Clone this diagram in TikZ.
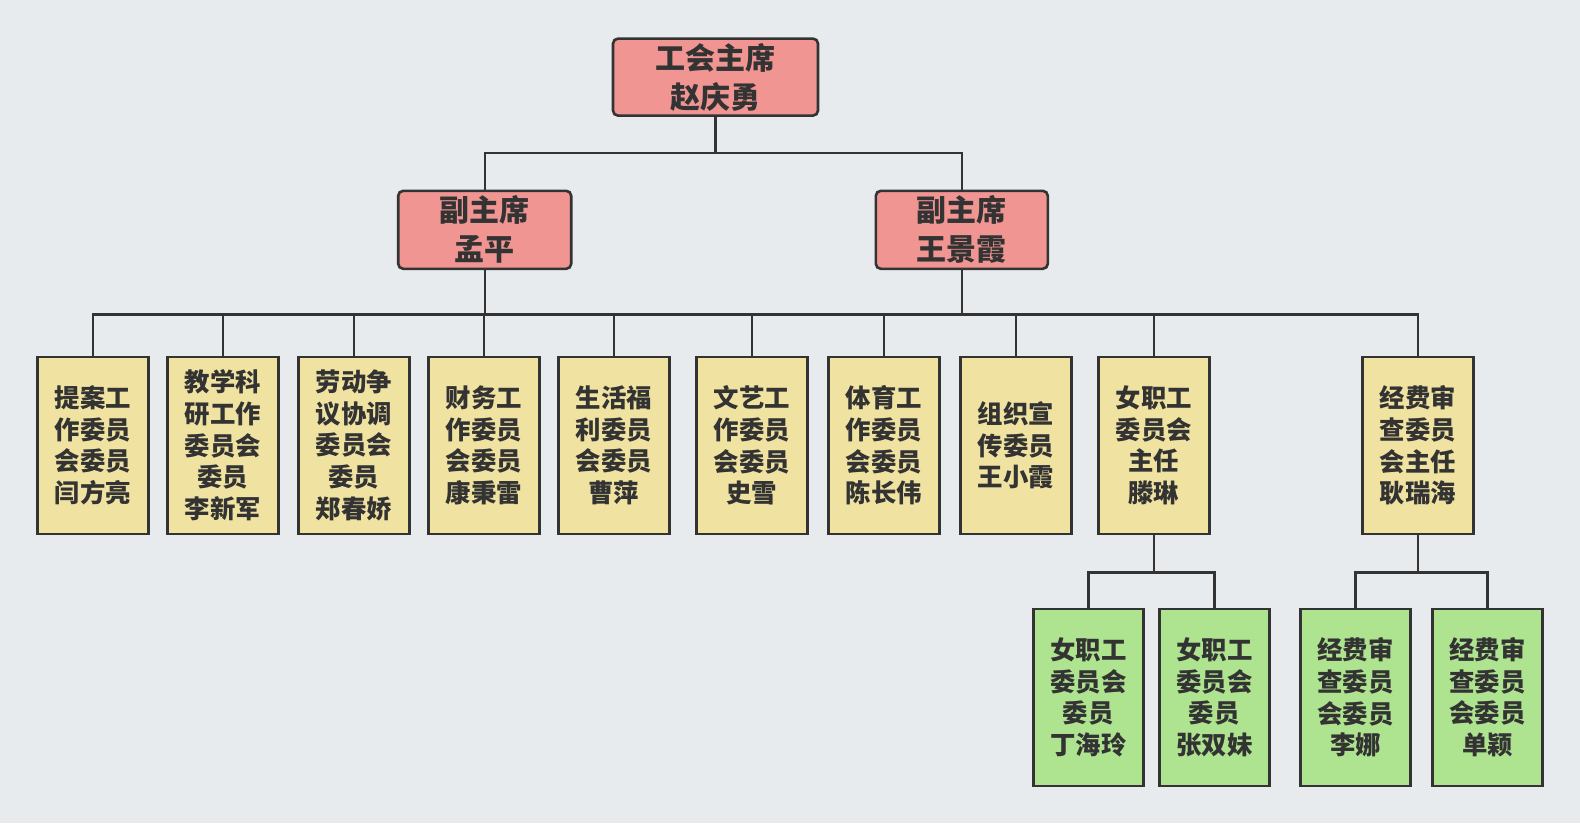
\documentclass[tikz,border=0pt]{standalone}
\usepackage{fontspec}
\setmainfont{Noto Sans CJK SC}
\definecolor{bg}{HTML}{E7EBEE}
\definecolor{ink}{HTML}{333333}
\definecolor{redfill}{HTML}{F19592}
\definecolor{yelfill}{HTML}{F0E3A1}
\definecolor{grnfill}{HTML}{AEE38F}
\tikzset{
  base/.style={draw=ink, line width=2.6pt, text=ink, align=center, inner sep=0pt, font=\bfseries},
  chief/.style={base, fill=redfill, rounded corners=5pt, font=\fontsize{30}{39}\selectfont\bfseries},
  leaf/.style={base, fill=yelfill, minimum width=111pt, minimum height=177pt, font=\fontsize{25.4}{31.7}\selectfont\bfseries},
  sub/.style={base, fill=grnfill, minimum width=110pt, minimum height=177pt, font=\fontsize{25.4}{31.7}\selectfont\bfseries},
  link/.style={draw=ink, line width=2.4pt}
}
\begin{document}
\begin{tikzpicture}[x=1pt,y=-1pt]
\useasboundingbox[fill=bg] (0,0) rectangle (1580,823);
\node[chief, minimum width=205pt, minimum height=77pt] (root) at (715.5,77.1) {工会主席\\赵庆勇};
\node[chief, minimum width=173pt, minimum height=78pt] (vl) at (484.7,229.8) {副主席\\孟平};
\node[chief, minimum width=172pt, minimum height=78pt] (vr) at (961.8,229.8) {副主席\\王景霞};
\node[leaf] (c1) at (92.7,445.4) {提案工\\作委员\\会委员\\闫方亮};
\node[leaf] (c2) at (222.7,445.4) {教学科\\研工作\\委员会\\委员\\李新军};
\node[leaf] (c3) at (353.7,445.4) {劳动争\\议协调\\委员会\\委员\\郑春娇};
\node[leaf] (c4) at (483.7,445.4) {财务工\\作委员\\会委员\\康秉雷};
\node[leaf] (c5) at (613.7,445.4) {生活福\\利委员\\会委员\\曹萍};
\node[leaf] (c6) at (751.7,445.4) {文艺工\\作委员\\会委员\\史雪};
\node[leaf] (c7) at (883.7,445.4) {体育工\\作委员\\会委员\\陈长伟};
\node[leaf] (c8) at (1015.8,445.4) {组织宣\\传委员\\王小霞};
\node[leaf] (c9) at (1153.8,445.4) {女职工\\委员会\\主任\\滕琳};
\node[leaf] (c10) at (1417.8,445.4) {经费审\\查委员\\会主任\\耿瑞海};
\node[sub] (g1) at (1088.3,697.3) {女职工\\委员会\\委员\\丁海玲};
\node[sub] (g2) at (1214.3,697.3) {女职工\\委员会\\委员\\张双妹};
\node[sub] (g3) at (1355.4,697.3) {经费审\\查委员\\会委员\\李娜};
\node[sub] (g4) at (1487.4,697.3) {经费审\\查委员\\会委员\\单颖};
\coordinate (busA) at (0,153.2);
\coordinate (busB) at (0,314.4);
\coordinate (busC) at (0,572.4);
\foreach \v in {vl,vr}
  \draw[link] (root.south) -- (root.south |- busA) -| (\v.north);
\foreach \c in {c1,c2,c3,c4}
  \draw[link] (vl.south) -- (vl.south |- busB) -| (\c.north);
\foreach \c in {c1,c2,c3,c4,c5,c6,c7,c8,c9,c10}
  \draw[link] (vr.south) -- (vr.south |- busB) -| (\c.north);
\foreach \g in {g1,g2}
  \draw[link] (c9.south) -- (c9.south |- busC) -| (\g.north);
\foreach \g in {g3,g4}
  \draw[link] (c10.south) -- (c10.south |- busC) -| (\g.north);
\end{tikzpicture}
\end{document}
